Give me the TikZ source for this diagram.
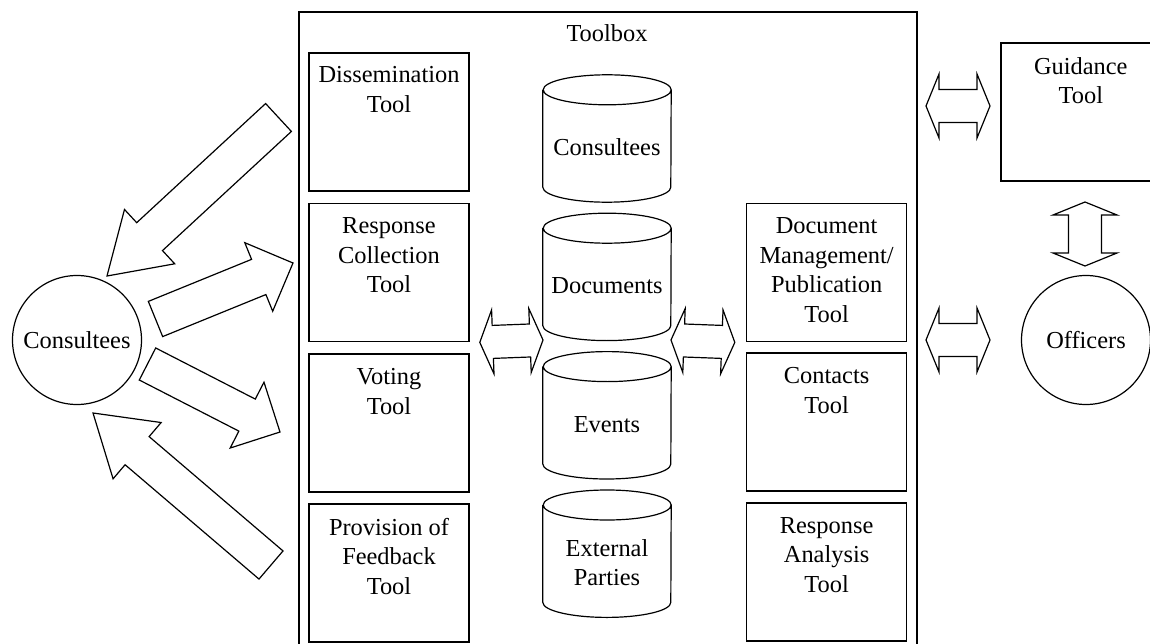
\documentclass[tikz,border=0pt]{standalone}
\usepackage{fontspec}
\setmainfont{Liberation Serif}
\usepackage{tikz}
\usetikzlibrary{calc, positioning}
\newcommand{\toolfont}{\fontsize{24.4}{29.5}\selectfont}
\tikzset{
    framenode/.style = {draw, rectangle, line width=1.6pt, inner sep=0pt},
    toolnode/.style = {draw, rectangle, line width=1.6pt, minimum width=160pt, minimum height=138pt, inner sep=0pt},
    tooltext/.style = {anchor=north, align=center, inner sep=0pt, font=\toolfont},
    textnode/.style = {draw=none, inner sep=0pt, font=\toolfont},
    dbnode/.style = {rectangle, minimum width=128pt, minimum height=127pt, inner sep=0pt},
    dbtext/.style = {align=center, inner sep=0pt, font=\toolfont},
    actornode/.style = {draw, circle, line width=1.2pt, minimum size=129pt, inner sep=0pt, font=\toolfont},
    outline/.style = {draw, line width=1.2pt, line join=miter}
}
% cylinder round an empty node
\newcommand{\drawdb}[1]{%
    \draw [line width=1.2pt] ([yshift=-15pt]#1.north west) -- ([yshift=15pt]#1.south west)
        arc[start angle=180, end angle=360, x radius=64pt, y radius=15pt]
        -- ([yshift=-15pt]#1.north east)
        arc[start angle=0, end angle=360, x radius=64pt, y radius=15pt];}
% block arrow: tail, tip, half shaft, half head, head length
\newcommand{\blockarrow}[5]{%
    \path ($(#2)!#5!(#1)$) coordinate (bahead);
    \draw [outline] ($(#1)!#3!90:(#2)$) -- ($(bahead)!#3!90:(#2)$) -- ($(bahead)!#4!90:(#2)$)
        -- (#2) -- ($(bahead)!#4!-90:(#2)$) -- ($(bahead)!#3!-90:(#2)$) -- ($(#1)!#3!-90:(#2)$) -- cycle;}
% double block arrow between two tips
\newcommand{\dblarrow}[2]{%
    \path ($(#1)!13pt!(#2)$) coordinate (daa) ($(#2)!13pt!(#1)$) coordinate (dab);
    \draw [outline] (#1) -- ($(daa)!32pt!90:(#2)$) -- ($(daa)!16.5pt!90:(#2)$) -- ($(dab)!16.5pt!-90:(#1)$)
        -- ($(dab)!32pt!-90:(#1)$) -- (#2) -- ($(dab)!32pt!90:(#1)$) -- ($(dab)!16.5pt!90:(#1)$)
        -- ($(daa)!16.5pt!-90:(#2)$) -- ($(daa)!32pt!-90:(#2)$) -- cycle;}
\begin{document}
\begin{tikzpicture}[x=1pt, y=-1pt]
    \useasboundingbox (0,0) rectangle (1150,644);

    \node [framenode, name=toolbox, anchor=north west, minimum width=618pt, minimum height=640pt] at (298,11) {};
    \node [textnode, name=boxtitle, anchor=base] at (607,42) {Toolbox};

    % tools on the left
    \node [toolnode, name=diss] at (389,122) {};
    \node [toolnode, name=collect, below=11pt of diss] {};
    \node [toolnode, name=vote, below=11pt of collect] {};
    \node [toolnode, name=feedback, below=10pt of vote] {};
    % tools on the right
    \node [toolnode, name=docman, right=276pt of collect] {};
    \node [toolnode, name=contacts, below=10pt of docman] {};
    \node [toolnode, name=analysis, below=10pt of contacts] {};
    \node [toolnode, name=guide, anchor=north west] at (1000,42) {};

    \node [tooltext, name=disstext] at ([yshift=-14pt]diss.north) {Dissemination\\Tool};
    \node [tooltext, name=collecttext] at ([yshift=-15pt]collect.north) {Response\\Collection\\Tool};
    \node [tooltext, name=votetext] at ([yshift=-15pt]vote.north) {Voting\\Tool};
    \node [tooltext, name=feedbacktext] at ([yshift=-15pt]feedback.north) {Provision of\\Feedback\\Tool};
    \node [tooltext, name=docmantext] at ([yshift=-15pt]docman.north) {Document\\Management/\\Publication\\Tool};
    \node [tooltext, name=contactstext] at ([yshift=-15pt]contacts.north) {Contacts\\Tool};
    \node [tooltext, name=analysistext] at ([yshift=-15pt]analysis.north) {Response\\Analysis\\Tool};
    \node [tooltext, name=guidetext] at ([yshift=-15pt]guide.north) {Guidance\\Tool};

    % data stores
    \node [dbnode, name=dbcons] at (607,138.5) {};
    \node [dbnode, name=dbdocs, below=11pt of dbcons] {};
    \node [dbnode, name=dbevents, below=11pt of dbdocs] {};
    \node [dbnode, name=dbparties, below=11pt of dbevents] {};
    \foreach \db in {dbcons, dbdocs, dbevents, dbparties} {\drawdb{\db}}
    \node [dbtext, name=dbconstext] at ([yshift=-9pt]dbcons.center) {Consultees};
    \node [dbtext, name=dbdocstext] at ([yshift=-9pt]dbdocs.center) {Documents};
    \node [dbtext, name=dbeventstext] at ([yshift=-9pt]dbevents.center) {Events};
    \node [dbtext, name=dbpartiestext] at ([yshift=-9pt]dbparties.center) {External\\Parties};

    \node [actornode, name=consultees] at (77,340) {Consultees};
    \node [actornode, name=officers] at (1086,340) {Officers};

    % arrows to and from the consultees
    \coordinate (dissout) at (278.5,117.5); \coordinate (dissin) at (107,276);
    \coordinate (collectout) at (155.5,319); \coordinate (collectin) at (293,263);
    \coordinate (voteout) at (147.5,364); \coordinate (votein) at (280,432);
    \coordinate (feedbackout) at (271,565); \coordinate (feedbackin) at (93,413);
    \blockarrow{dissout}{dissin}{19pt}{37pt}{58pt}
    \blockarrow{collectout}{collectin}{19pt}{37pt}{37pt}
    \blockarrow{voteout}{votein}{18pt}{37pt}{37pt}
    \blockarrow{feedbackout}{feedbackin}{18.5pt}{37pt}{58pt}

    % two-way arrows
    \coordinate (leftA) at ([xshift=10pt]collect.south east); \coordinate (leftB) at (543,340);
    \coordinate (midA) at (671,340); \coordinate (midB) at ([xshift=-11pt]docman.south west);
    \coordinate (offA) at (926,340); \coordinate (offB) at (990,340);
    \coordinate (guideA) at (926,106); \coordinate (guideB) at (990,106);
    \coordinate (vertA) at (1085,202); \coordinate (vertB) at (1085,266);
    \dblarrow{leftA}{leftB}
    \dblarrow{midA}{midB}
    \dblarrow{offA}{offB}
    \dblarrow{guideA}{guideB}
    \dblarrow{vertA}{vertB}
\end{tikzpicture}
\end{document}
